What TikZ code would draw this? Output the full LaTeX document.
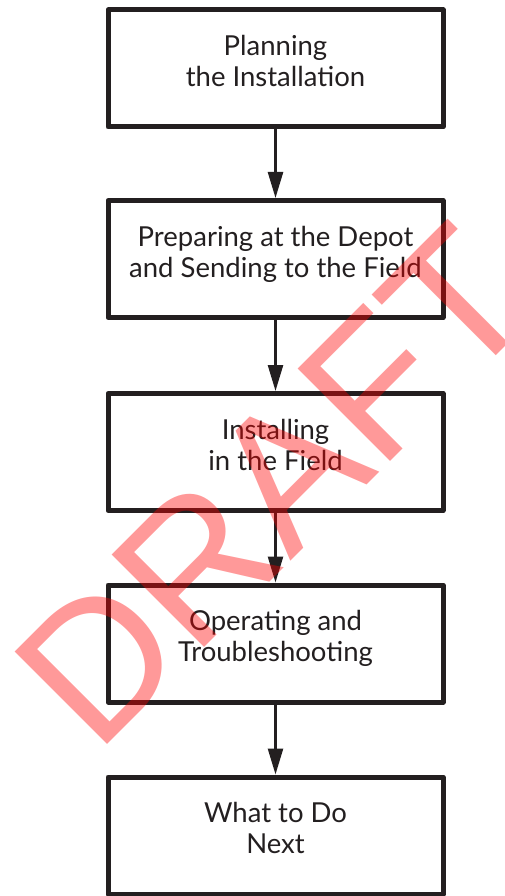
\documentclass[tikz,border=0pt]{standalone}
\usepackage{fontspec}
\setmainfont{Lato}
\newfontfamily\draftfont{Liberation Sans}
\usepackage{xcolor}
\usepackage{tikz}
\usetikzlibrary{arrows.meta}
\usetikzlibrary{shapes}
\definecolor{ink}{HTML}{231F20}
\tikzset{>=Triangle}
\tikzstyle{stage} = [rectangle, draw=ink, line width=5pt, line join=round, minimum width=335pt, minimum height=117pt, align=center, text=ink, font=\fontsize{27.5}{31}\selectfont, execute at begin node={\rule{0pt}{22pt}}, execute at end node={\rule[-15pt]{0pt}{15pt}}]
\tikzstyle{flow} = [-{Triangle[length=26pt, width=15pt]}, draw=ink, fill=ink, line width=2.5pt]

\begin{document}
\begin{tikzpicture}[x=1pt, y=-1pt]
\useasboundingbox (0,0) rectangle (504,896);
\node [stage] (plan) at (275.5, 68.5) {Planning\\the Installation};
\node [stage] (depot) at (275.5, 259) {Preparing at the Depot\\and Sending to the Field};
\node [stage] (install) at (275.5, 452) {Installing\\in the Field};
\node [stage] (operate) at (275.5, 643.5) {Operating and\\Troubleshooting};
\node [stage] (next) at (275.5, 835.5) {What to Do\\Next};
\draw [flow] (plan) to (depot);
\draw [flow] (depot) to (install);
\draw [flow] (install) to (operate);
\draw [flow] (operate) to (next);
% watermark on top
\node [rotate=45, anchor=base west, inner sep=0pt, text=red, opacity=0.4, font=\draftfont\fontsize{190}{190}\selectfont] (draft) at (96, 756) {DRAFT};
\end{tikzpicture}
\end{document}
